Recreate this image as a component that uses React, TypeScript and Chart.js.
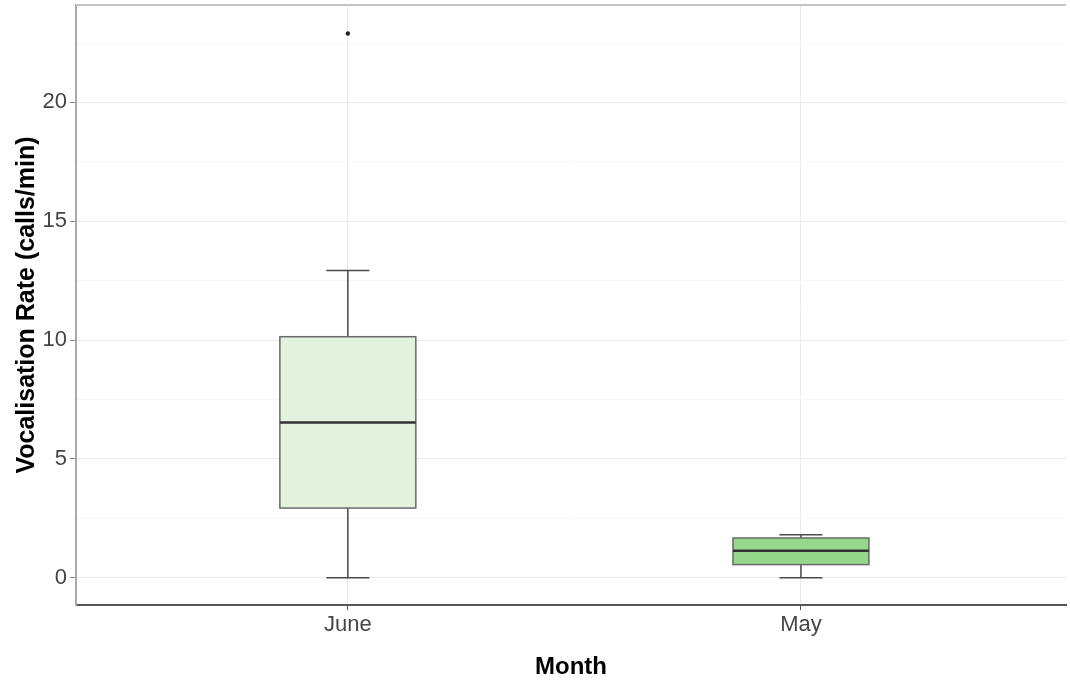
import React, { useEffect, useRef } from "react";
import { Chart, registerables } from "chart.js";

Chart.register(...registerables);

// ---- data ----
const categories = ["June", "May"];
const whiskerLow = [0, 0];
const q1Values = [2.93, 0.55];
const medianValues = [6.53, 1.13];
const q3Values = [10.14, 1.67];
const whiskerHigh = [12.93, 1.81];
const outlierValues = [[22.9], []];
const boxFills = ["#e2f2dc", "#95d78b"];
const yMajorTicks = [0, 5, 10, 15, 20];
const yMinorTicks = [2.5, 7.5, 12.5, 17.5, 22.5];

const FONT = "'Liberation Sans', Arial, sans-serif";
const BOX_WIDTH = 0.3;
const CAP_WIDTH = 0.095;

const boxPlugin = {
  id: "boxplotDraw",
  beforeDatasetsDraw(chart: any) {
    const { ctx, scales, chartArea } = chart;
    const xs = scales.x;
    const ys = scales.y;
    ctx.save();
    // top border of panel
    ctx.strokeStyle = "#c4c4c4";
    ctx.lineWidth = 2;
    ctx.beginPath();
    ctx.moveTo(chartArea.left, chartArea.top);
    ctx.lineTo(chartArea.right, chartArea.top);
    ctx.stroke();

    categories.forEach((_, i) => {
      const xc = xs.getPixelForValue(i + 1);
      const xl = xs.getPixelForValue(i + 1 - BOX_WIDTH / 2);
      const xr = xs.getPixelForValue(i + 1 + BOX_WIDTH / 2);
      const cl = xs.getPixelForValue(i + 1 - CAP_WIDTH / 2);
      const cr = xs.getPixelForValue(i + 1 + CAP_WIDTH / 2);
      const yLo = ys.getPixelForValue(whiskerLow[i]);
      const yHi = ys.getPixelForValue(whiskerHigh[i]);
      const yQ1 = ys.getPixelForValue(q1Values[i]);
      const yQ3 = ys.getPixelForValue(q3Values[i]);
      const yMed = ys.getPixelForValue(medianValues[i]);

      // whiskers
      ctx.strokeStyle = "#4a4a4a";
      ctx.lineWidth = 1.5;
      ctx.beginPath();
      ctx.moveTo(xc, yQ3);
      ctx.lineTo(xc, yHi);
      ctx.moveTo(xc, yQ1);
      ctx.lineTo(xc, yLo);
      ctx.moveTo(cl, yHi);
      ctx.lineTo(cr, yHi);
      ctx.moveTo(cl, yLo);
      ctx.lineTo(cr, yLo);
      ctx.stroke();

      // box
      ctx.fillStyle = boxFills[i];
      ctx.fillRect(xl, yQ3, xr - xl, yQ1 - yQ3);
      ctx.strokeStyle = "#6a6a6a";
      ctx.lineWidth = 1.5;
      ctx.strokeRect(xl, yQ3, xr - xl, yQ1 - yQ3);

      // median
      ctx.strokeStyle = "#333333";
      ctx.lineWidth = 2.5;
      ctx.beginPath();
      ctx.moveTo(xl, yMed);
      ctx.lineTo(xr, yMed);
      ctx.stroke();
    });
    ctx.restore();
  },
};

export default function App() {
  const canvasRef = useRef<HTMLCanvasElement | null>(null);

  useEffect(() => {
    document.body.style.margin = "0";
    const canvas = canvasRef.current;
    if (!canvas) return;

    const outlierPoints: { x: number; y: number }[] = [];
    outlierValues.forEach((vals, i) => vals.forEach((v) => outlierPoints.push({ x: i + 1, y: v })));

    const chart = new Chart(canvas, {
      type: "scatter",
      data: {
        datasets: [
          {
            data: outlierPoints,
            pointRadius: 2.2,
            pointBackgroundColor: "#222222",
            pointBorderWidth: 0,
          },
        ],
      },
      options: {
        animation: false,
        responsive: false,
        layout: { padding: { top: 5, right: 0, bottom: 0, left: 0 } },
        plugins: { legend: { display: false }, tooltip: { enabled: false } },
        scales: {
          x: {
            type: "linear",
            min: 0.4,
            max: 2.585,
            afterBuildTicks: (s: any) => {
              s.ticks = categories.map((_, i) => ({ value: i + 1 }));
            },
            afterFit: (s: any) => {
              s.height = 78;
              s.paddingLeft = 0;
              s.paddingRight = 0;
              s.paddingTop = 0;
              s.paddingBottom = 0;
            },
            ticks: {
              callback: (v: any) => categories[Number(v) - 1] ?? "",
              font: { family: FONT, size: 22 },
              color: "#454545",
              padding: 2,
              maxRotation: 0,
              autoSkip: false,
            },
            grid: {
              color: "#ebebeb",
              lineWidth: 1,
              tickColor: "#555555",
              tickLength: 5,
            },
            border: { display: true, color: "#555555", width: 2 },
            title: {
              display: true,
              text: "Month",
              font: { family: FONT, size: 24, weight: "bold" },
              color: "#000000",
              padding: { top: 0, bottom: 1 },
            },
          },
          y: {
            type: "linear",
            min: -1.15,
            max: 24.1,
            afterBuildTicks: (s: any) => {
              s.ticks = [...yMajorTicks, ...yMinorTicks]
                .sort((a, b) => a - b)
                .map((v) => ({ value: v }));
            },
            afterFit: (s: any) => {
              s.width = 76;
              s.paddingLeft = 0;
              s.paddingRight = 0;
              s.paddingTop = 0;
              s.paddingBottom = 0;
            },
            ticks: {
              callback: (v: any) => (yMajorTicks.includes(Number(v)) ? String(v) : ""),
              font: { family: FONT, size: 22 },
              color: "#454545",
              padding: 3,
              autoSkip: false,
            },
            grid: {
              color: (c: any) =>
                c.tick && yMajorTicks.includes(c.tick.value) ? "#ebebeb" : "#f6f6f6",
              lineWidth: 1,
              tickColor: (c: any) =>
                c.tick && yMajorTicks.includes(c.tick.value) ? "#888888" : "rgba(0,0,0,0)",
              tickLength: 6,
            },
            border: { display: true, color: "#a8a8a8", width: 2 },
            title: {
              display: true,
              text: "Vocalisation Rate (calls/min)",
              font: { family: FONT, size: 25, weight: "bold" },
              color: "#000000",
              padding: { top: 12, bottom: 0 },
            },
          },
        },
      },
      plugins: [boxPlugin],
    } as any);

    return () => chart.destroy();
  }, []);

  return (
    <div style={{ width: 1070, height: 683, background: "#ffffff" }}>
      <canvas ref={canvasRef} width={1070} height={683} />
    </div>
  );
}
